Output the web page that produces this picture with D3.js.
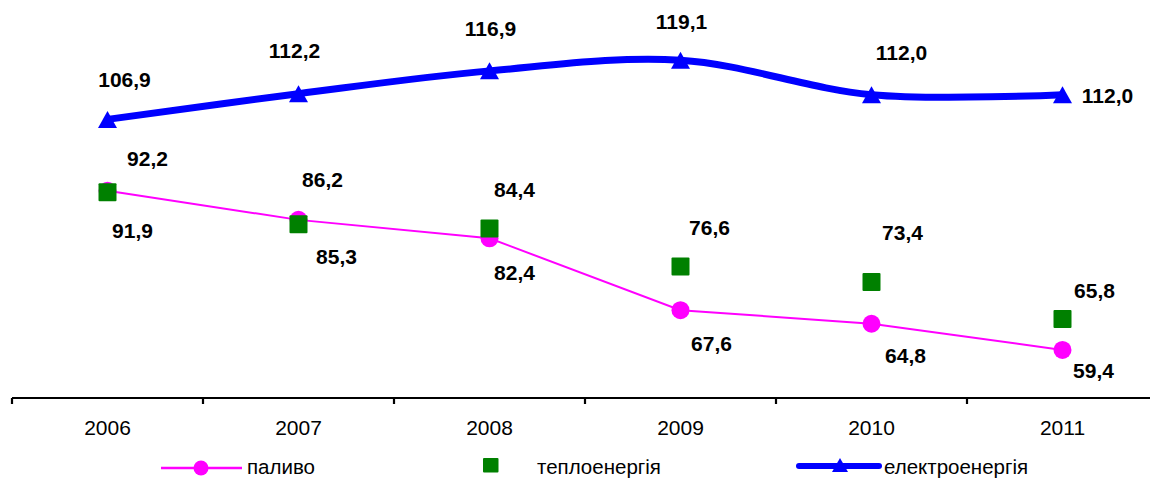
<!DOCTYPE html>
<html>
<head>
<meta charset="utf-8">
<script src="https://cdn.jsdelivr.net/npm/d3@7"></script>
<style>
  html, body { margin: 0; padding: 0; background: #fff; }
  svg { display: block; font-family: "Liberation Sans", Arial, sans-serif; }
</style>
</head>
<body>
<svg id="chart" width="1150" height="479"></svg>
<script>
// ---- data ----
const years = ["2006", "2007", "2008", "2009", "2010", "2011"];
const palyvo = [92.2, 86.2, 82.4, 67.6, 64.8, 59.4];
const teplo = [91.9, 85.3, 84.4, 76.6, 73.4, 65.8];
const elektro = [106.9, 112.2, 116.9, 119.1, 112.0, 112.0];
const seriesNames = ["паливо", "теплоенергія", "електроенергія"];

// label offsets (pixels, relative to each point): [dx (center), dy (baseline)]
const palyvoLabelOff = [[40, -25], [24, -33], [25, 42], [31, 41], [34, 39], [31, 28]];
const teploLabelOff = [[25, 46], [38, 40], [25, -32], [29, -31], [31, -42], [32, -21]];
const elektroLabelOff = [[17, -32], [-4, -36], [1, -35], [1, -31], [30, -35], [45, 8]];

const fmt = v => d3.format(".1f")(v).replace(".", ",");

const svg = d3.select("#chart");
const x = d3.scaleBand().domain(years).range([12, 1158]).paddingInner(0).paddingOuter(0);
const cx = d => x(d) + x.bandwidth() / 2;
const y = d3.scaleLinear().domain([49.5, 131.5]).range([398, 0]);

// ---- axis ----
const axisY = 398;
const axisG = svg.append("g").attr("transform", `translate(0,${axisY})`)
  .call(d3.axisBottom(x).tickSize(0).tickPadding(0));
axisG.select(".domain").remove();
axisG.selectAll("text")
  .attr("y", 37).attr("dy", null)
  .attr("font-size", 21).attr("font-family", "Liberation Sans, Arial, sans-serif")
  .attr("fill", "#000");
svg.append("line").attr("x1", 12).attr("x2", 1150).attr("y1", axisY).attr("y2", axisY)
  .attr("stroke", "#000").attr("stroke-width", 2.2);
svg.selectAll("line.tick-b").data(years).enter().append("line")
  .attr("class", "tick-b")
  .attr("x1", d => x(d)).attr("x2", d => x(d))
  .attr("y1", axisY).attr("y2", axisY + 6)
  .attr("stroke", "#000").attr("stroke-width", 2.2);

// ---- паливо ----
const pal = years.map((yr, i) => ({ yr, v: palyvo[i], off: palyvoLabelOff[i] }));
const tep = years.map((yr, i) => ({ yr, v: teplo[i], off: teploLabelOff[i] }));
const ele = years.map((yr, i) => ({ yr, v: elektro[i], off: elektroLabelOff[i] }));

svg.append("path").datum(pal)
  .attr("d", d3.line().x(d => cx(d.yr)).y(d => y(d.v)).curve(d3.curveLinear))
  .attr("fill", "none").attr("stroke", "#FF00FF").attr("stroke-width", 2);
svg.selectAll("circle.pal").data(pal).enter().append("circle")
  .attr("class", "pal")
  .attr("cx", d => cx(d.yr)).attr("cy", d => y(d.v)).attr("r", 9)
  .attr("fill", "#FF00FF");

// ---- теплоенергія ----
const sq = 18;
svg.selectAll("rect.tep").data(tep).enter().append("rect")
  .attr("class", "tep")
  .attr("x", d => cx(d.yr) - sq / 2).attr("y", d => y(d.v) - sq / 2)
  .attr("width", sq).attr("height", sq).attr("rx", 1)
  .attr("fill", "#008000");

// ---- електроенергія ----
svg.append("path").datum(ele)
  .attr("d", d3.line().x(d => cx(d.yr)).y(d => y(d.v)).curve(d3.curveCardinal.tension(0)))
  .attr("fill", "none").attr("stroke", "#0000FF").attr("stroke-width", 7)
  .attr("stroke-linejoin", "round");
const tri = (w, h) => `M0,${-h / 2}L${w / 2},${h / 2}L${-w / 2},${h / 2}Z`;
svg.selectAll("path.ele").data(ele).enter().append("path")
  .attr("class", "ele")
  .attr("transform", d => `translate(${cx(d.yr)},${y(d.v)})`)
  .attr("d", tri(19, 17))
  .attr("fill", "#0000FF");

// ---- labels ----
function labels(data, cls) {
  svg.selectAll("text." + cls).data(data).enter().append("text")
    .attr("class", cls)
    .attr("x", d => cx(d.yr) + d.off[0])
    .attr("y", d => y(d.v) + d.off[1])
    .attr("text-anchor", "middle")
    .attr("font-size", 21).attr("font-weight", "bold").attr("fill", "#000")
    .text(d => fmt(d.v));
}
labels(pal, "lp");
labels(tep, "lt");
labels(ele, "le");

// ---- legend ----
const lg = svg.append("g").attr("font-size", 20.5).attr("fill", "#000");
lg.append("line").attr("x1", 161).attr("x2", 242).attr("y1", 468).attr("y2", 468)
  .attr("stroke", "#FF00FF").attr("stroke-width", 2.5);
lg.append("circle").attr("cx", 201).attr("cy", 468).attr("r", 7.5).attr("fill", "#FF00FF");
lg.append("text").attr("x", 247).attr("y", 474).text(seriesNames[0]);

lg.append("rect").attr("x", 483).attr("y", 458).attr("width", 15.5).attr("height", 14.5)
  .attr("rx", 1).attr("fill", "#008000");
lg.append("text").attr("x", 537).attr("y", 474).text(seriesNames[1]);

lg.append("line").attr("x1", 799).attr("x2", 879).attr("y1", 466).attr("y2", 466)
  .attr("stroke", "#0000FF").attr("stroke-width", 6).attr("stroke-linecap", "round");
lg.append("path").attr("transform", "translate(840,465)").attr("d", tri(16, 14)).attr("fill", "#0000FF");
lg.append("text").attr("x", 884).attr("y", 474).text(seriesNames[2]);
</script>
</body>
</html>
